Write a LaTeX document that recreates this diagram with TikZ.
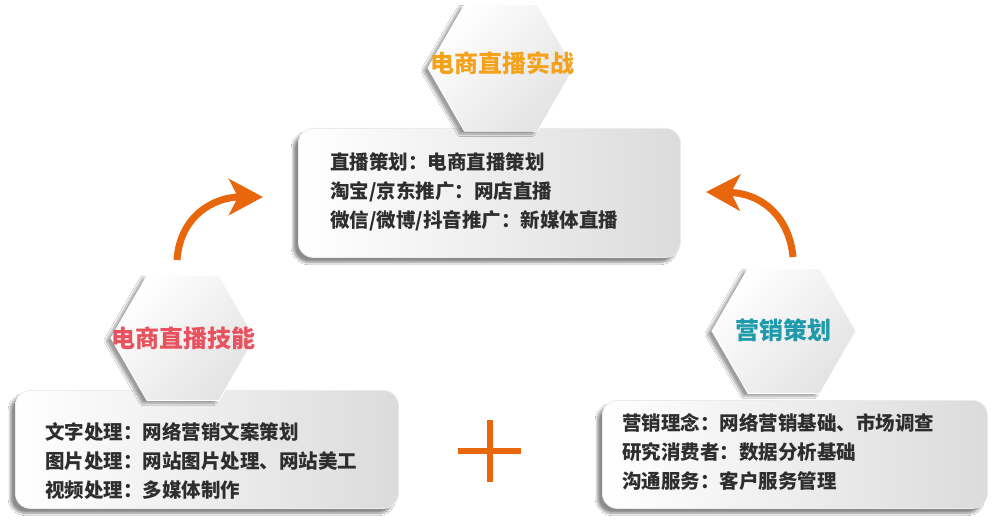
\documentclass[tikz,border=0pt]{standalone}
\usepackage{fontspec}
\setmainfont{Noto Sans CJK SC}
\usetikzlibrary{shapes.geometric,arrows.meta,shadows.blur}
\definecolor{arroworange}{HTML}{E8670C}
\definecolor{tOrange}{HTML}{F5A21B}
\definecolor{tRed}{HTML}{E8525E}
\definecolor{tTeal}{HTML}{1E9AAA}
\definecolor{bodytext}{HTML}{2E2E2E}
\begin{document}
\begin{tikzpicture}[x=1pt,y=-1pt,
  box/.style={rectangle, rounded corners=15pt, anchor=north west, inner sep=0pt,
    left color=white, right color=black!14, draw=white!92!black, line width=0.8pt,
    blur shadow={shadow xshift=-5pt, shadow yshift=-5pt, shadow blur steps=14,
      shadow blur extra rounding=5pt, shadow opacity=45}},
  hexa/.style={regular polygon, regular polygon sides=6, minimum size=146pt, inner sep=0pt,
    top color=black!11, bottom color=white, shading angle=225,
    draw=white, line width=0.8pt,
    blur shadow={shadow xshift=-5pt, shadow yshift=-3pt, shadow blur steps=14, shadow opacity=38}},
  title/.style={inner sep=0pt, font=\bfseries\fontsize{24}{28}\selectfont},
  body/.style={anchor=west, align=left, inner sep=0pt, text=bodytext,
    font=\bfseries\fontsize{19.5}{29}\selectfont},
  arr/.style={draw=arroworange, line width=7pt,
    -{Stealth[length=34pt,width=36pt,inset=9pt]}},
  plusline/.style={draw=arroworange, line width=6.5pt}
]
\useasboundingbox (0,0) rectangle (1000,521);
\fill[white] (0,0) rectangle (1000,521);

% boxes
\node[box, minimum width=382pt, minimum height=129pt] (btop) at (298,128) {};
\node[box, minimum width=383pt, minimum height=118pt] (bleft) at (15,390) {};
\node[box, minimum width=385pt, minimum height=108pt] (bright) at (602,400) {};

% hexagons
\node[hexa] (htop) at (501,68) {};
\node[hexa, minimum size=144pt] (hleft) at (183,338) {};
\node[hexa, minimum size=144pt] (hright) at (784,331) {};

% titles
\node[title, text=tOrange] (ttop) at (502,63) {电商直播实战};
\node[title, text=tRed] (tleft) at (183,338) {电商直播技能};
\node[title, text=tTeal] (tright) at (783,330) {营销策划};

% texts
\node[body] (xtop) at (330,192) {直播策划：电商直播策划\\淘宝/京东推广：网店直播\\微信/微博/抖音推广：新媒体直播};
\node[body] (xleft) at (45,461) {文字处理：网络营销文案策划\\图片处理：网站图片处理、网站美工\\视频处理：多媒体制作};
\node[body] (xright) at (622,452) {营销理念：网络营销基础、市场调查\\研究消费者：数据分析基础\\沟通服务：客户服务管理};

% arrows
\coordinate (a1s) at (177,260);
\coordinate (a1e) at (263,197);
\coordinate (a2s) at (793,257);
\coordinate (a2e) at (706,192);
\draw[arr] (a1s) .. controls (180,215) and (215,197) .. (a1e);
\draw[arr] (a2s) .. controls (789,215) and (760,193) .. (a2e);

% plus
\coordinate (pt) at (490,420);
\coordinate (pb) at (490,482);
\coordinate (pl) at (458,451);
\coordinate (pr) at (521,451);
\draw[plusline] (pt) -- (pb);
\draw[plusline] (pl) -- (pr);
\end{tikzpicture}
\end{document}
